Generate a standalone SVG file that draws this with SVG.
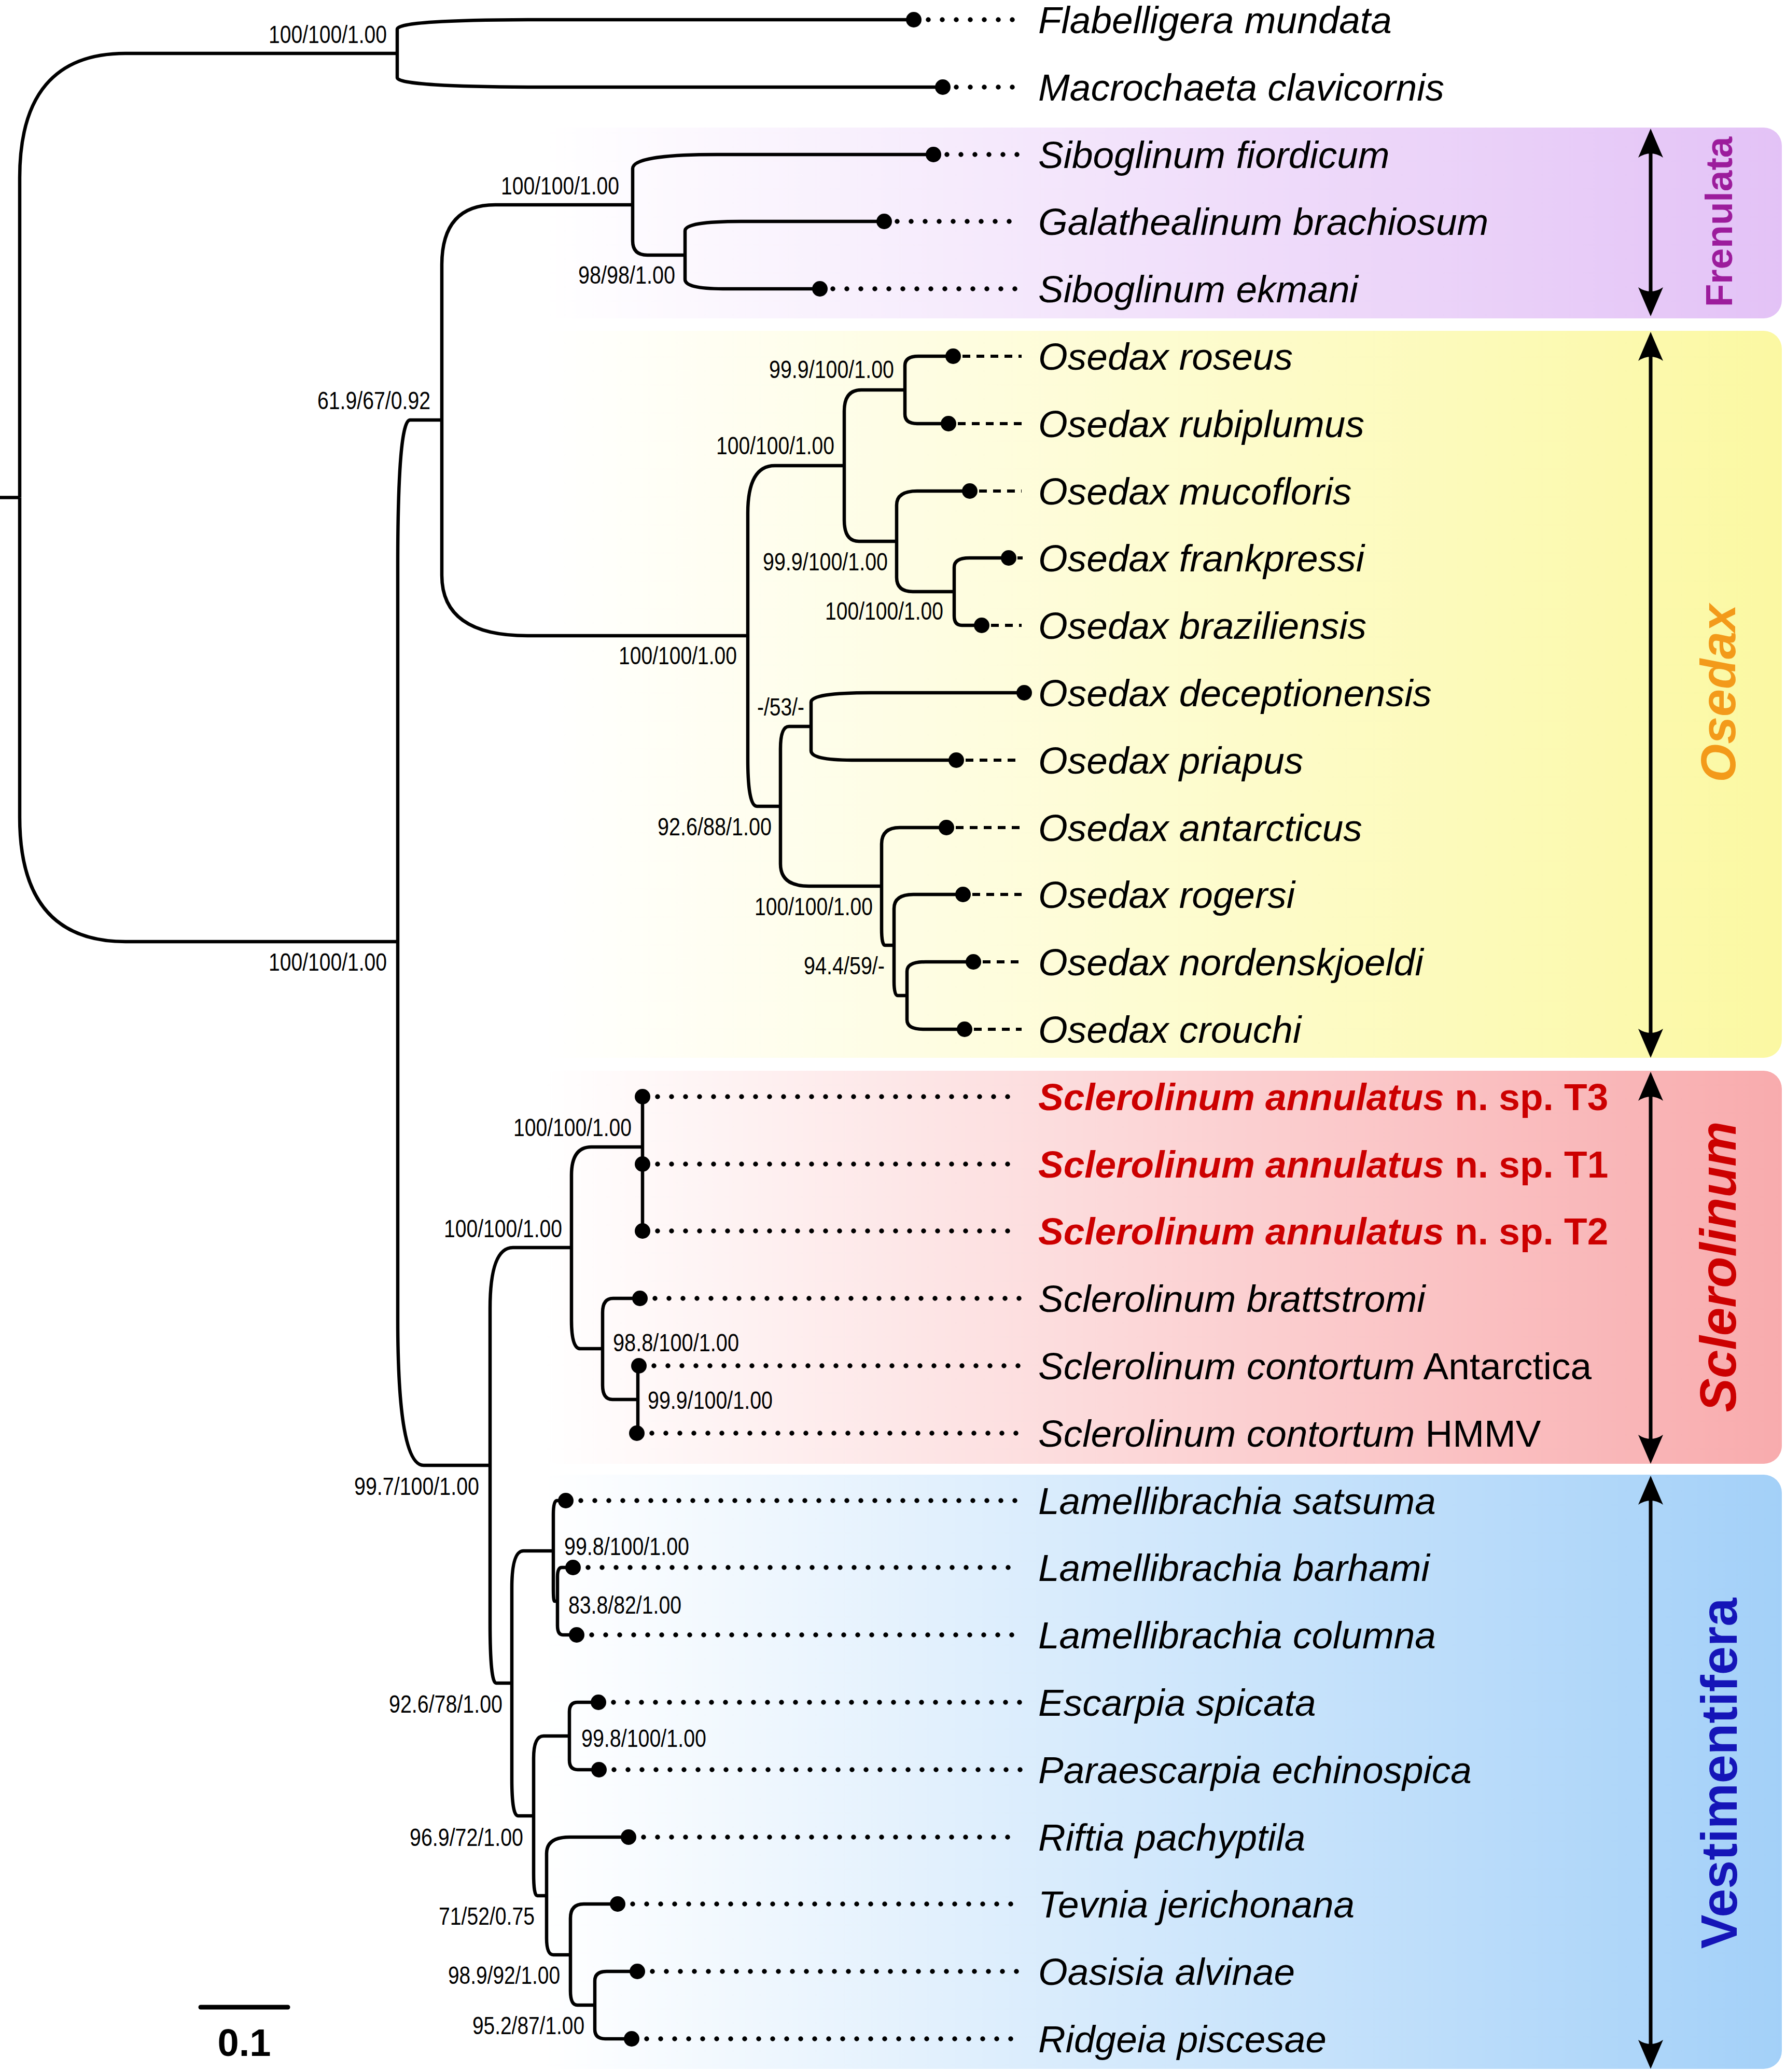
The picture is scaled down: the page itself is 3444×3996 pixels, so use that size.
<svg xmlns="http://www.w3.org/2000/svg" width="3444" height="3996" viewBox="0 0 3444 3996">
<defs>
<style>
.br{fill:none;stroke:#000;stroke-width:6.5;stroke-linejoin:round;stroke-linecap:butt}
.tip{fill:#000}
.dl{fill:none;stroke:#000;stroke-width:9.5;stroke-linecap:round;stroke-dasharray:0 27}
.ds{fill:none;stroke:#000;stroke-width:6;stroke-dasharray:15 12}
.sp{font-family:"Liberation Sans",Arial,sans-serif;font-size:73px;font-style:italic;fill:#000}
.nv{font-style:normal}
.new{fill:#CC0000;font-weight:bold}
.sup{font-family:"Liberation Sans",Arial,sans-serif;font-size:49px;text-anchor:end;fill:#000}
.grp{font-family:"Liberation Sans",Arial,sans-serif;text-anchor:middle}
.arr{fill:none;stroke:#000;stroke-width:7;marker-start:url(#ah);marker-end:url(#ah)}
</style>
<marker id="ah" viewBox="0 -25 56 50" refX="36" refY="0" markerWidth="56" markerHeight="50" markerUnits="userSpaceOnUse" orient="auto-start-reverse">
<path d="M56,0 L0,-24 Q16,0 0,24 Z" fill="#000"/>
</marker>
<linearGradient id="gF" gradientUnits="userSpaceOnUse" x1="1040" y1="0" x2="3436" y2="0"><stop offset="0" stop-color="#FFFFFF"/><stop offset="1" stop-color="#E3C2F6"/></linearGradient>
<linearGradient id="gO" gradientUnits="userSpaceOnUse" x1="1040" y1="0" x2="3436" y2="0"><stop offset="0" stop-color="#FFFFFF"/><stop offset="1" stop-color="#FBF8A2"/></linearGradient>
<linearGradient id="gS" gradientUnits="userSpaceOnUse" x1="1040" y1="0" x2="3436" y2="0"><stop offset="0" stop-color="#FFFFFF"/><stop offset="1" stop-color="#F8ABAD"/></linearGradient>
<linearGradient id="gV" gradientUnits="userSpaceOnUse" x1="1040" y1="0" x2="3436" y2="0"><stop offset="0" stop-color="#FFFFFF"/><stop offset="1" stop-color="#A3D0F8"/></linearGradient>
</defs>
<rect width="3444" height="3996" fill="#FFFFFF"/>

<g id="clade-boxes">
<rect id="box-frenulata" x="1040" y="246" width="2396" height="368" rx="35" fill="url(#gF)"/>
<rect id="box-osedax" x="1040" y="638" width="2396" height="1402" rx="35" fill="url(#gO)"/>
<rect id="box-sclerolinum" x="1040" y="2065" width="2396" height="758" rx="35" fill="url(#gS)"/>
<rect id="box-vestimentifera" x="1040" y="2844" width="2396" height="1146" rx="35" fill="url(#gV)"/>
</g>

<g id="connectors">
<path class="br" d="M0,959.5 H38"/>
<path class="br" d="M38,959.5 V342.8 Q38,103 241.8,103 H766"/>
<path class="br" d="M38,959.5 V1576.2 Q38,1816 242.1,1816 H767"/>
<path class="br" d="M766,103 V56.2 Q766,38 1044.9,38 H1762"/>
<path class="br" d="M766,103 V149.8 Q766,168 1060.6,168 H1818"/>
<path class="br" d="M767,1816 V1091.7 Q767,810 790.8,810 H852"/>
<path class="br" d="M767,1816 V2543.2 Q767,2826 816.8,2826 H945"/>
<path class="br" d="M852,810 V511.2 Q852,395 955,395 H1220"/>
<path class="br" d="M852,810 V1109.5 Q852,1226 1017.2,1226 H1442"/>
<path class="br" d="M1220,395 V325.2 Q1220,298 1382.4,298 H1800"/>
<path class="br" d="M1220,395 V464.8 Q1220,492 1248.3,492 H1321"/>
<path class="br" d="M1321,492 V445.2 Q1321,427 1428.5,427 H1705"/>
<path class="br" d="M1321,492 V538.8 Q1321,557 1393.8,557 H1581"/>
<path class="br" d="M1442,1226 V989.8 Q1442,898 1494.1,898 H1628"/>
<path class="br" d="M1442,1226 V1462.9 Q1442,1555 1459.6,1555 H1505"/>
<path class="br" d="M1628,898 V792.9 Q1628,752 1660.8,752 H1745"/>
<path class="br" d="M1628,898 V1003.1 Q1628,1044 1656.3,1044 H1729"/>
<path class="br" d="M1745,752 V705.2 Q1745,687 1771,687 H1838"/>
<path class="br" d="M1745,752 V798.8 Q1745,817 1768.5,817 H1829"/>
<path class="br" d="M1729,1044 V974.2 Q1729,947 1768.5,947 H1870"/>
<path class="br" d="M1729,1044 V1113.8 Q1729,1141 1760.1,1141 H1840"/>
<path class="br" d="M1840,1141 V1094.2 Q1840,1076 1869.4,1076 H1945"/>
<path class="br" d="M1840,1141 V1187.8 Q1840,1206 1854.8,1206 H1893"/>
<path class="br" d="M1505,1555 V1444.1 Q1505,1401 1521.5,1401 H1564"/>
<path class="br" d="M1505,1555 V1665.9 Q1505,1709 1559.6,1709 H1700"/>
<path class="br" d="M1564,1401 V1354.2 Q1564,1336 1679.1,1336 H1975"/>
<path class="br" d="M1564,1401 V1447.8 Q1564,1466 1642.4,1466 H1844"/>
<path class="br" d="M1700,1709 V1627.6 Q1700,1596 1735,1596 H1825"/>
<path class="br" d="M1700,1709 V1791.1 Q1700,1823 1706.7,1823 H1724"/>
<path class="br" d="M1724,1823 V1752.4 Q1724,1725 1761.2,1725 H1857"/>
<path class="br" d="M1724,1823 V1892.8 Q1724,1920 1731,1920 H1749"/>
<path class="br" d="M1749,1920 V1873.2 Q1749,1855 1784.8,1855 H1877"/>
<path class="br" d="M1749,1920 V1966.8 Q1749,1985 1780.1,1985 H1860"/>
<path class="br" d="M945,2826 V2523.6 Q945,2406 989,2406 H1102"/>
<path class="br" d="M945,2826 V3128.4 Q945,3246 956.8,3246 H987"/>
<path class="br" d="M1102,2406 V2266.3 Q1102,2212 1140.4,2212 H1239"/>
<path class="br" d="M1102,2406 V2546.4 Q1102,2601 1118.8,2601 H1162"/>
<path class="br" d="M1239,2115 V2374"/>
<path class="br" d="M1162,2601 V2531.2 Q1162,2504 1182.2,2504 H1234"/>
<path class="br" d="M1162,2601 V2671.6 Q1162,2699 1180.8,2699 H1230"/>
<path class="br" d="M1230,2634 V2764"/>
<path class="br" d="M987,3246 V3062.4 Q987,2991 1009.4,2991 H1067"/>
<path class="br" d="M987,3246 V3430.3 Q987,3502 998.8,3502 H1029"/>
<path class="br" d="M1067,2991 V2921.2 Q1067,2894 1073.7,2894 H1091"/>
<path class="br" d="M1067,2991 V3060.8 Q1067,3088 1069.2,3088 H1075"/>
<path class="br" d="M1075,3088 V3041.2 Q1075,3023 1083.4,3023 H1105"/>
<path class="br" d="M1075,3088 V3134.8 Q1075,3153 1085.4,3153 H1112"/>
<path class="br" d="M1029,3502 V3391.1 Q1029,3348 1048.3,3348 H1098"/>
<path class="br" d="M1029,3502 V3612.9 Q1029,3656 1036,3656 H1054"/>
<path class="br" d="M1098,3348 V3301.2 Q1098,3283 1113.7,3283 H1154"/>
<path class="br" d="M1098,3348 V3394.8 Q1098,3413 1114,3413 H1155"/>
<path class="br" d="M1054,3656 V3574.6 Q1054,3543 1098.2,3543 H1212"/>
<path class="br" d="M1054,3656 V3738.1 Q1054,3770 1066.9,3770 H1100"/>
<path class="br" d="M1100,3770 V3699.4 Q1100,3672 1125.5,3672 H1191"/>
<path class="br" d="M1100,3770 V3839.8 Q1100,3867 1113.2,3867 H1147"/>
<path class="br" d="M1147,3867 V3820.2 Q1147,3802 1170,3802 H1229"/>
<path class="br" d="M1147,3867 V3913.8 Q1147,3932 1166.9,3932 H1218"/>
</g>

<g id="support-values" class="sup">
<text x="746" y="83" textLength="228" lengthAdjust="spacingAndGlyphs">100/100/1.00</text>
<text x="1194" y="375" textLength="228" lengthAdjust="spacingAndGlyphs">100/100/1.00</text>
<text x="1302" y="547" textLength="187" lengthAdjust="spacingAndGlyphs">98/98/1.00</text>
<text x="830" y="789" textLength="218" lengthAdjust="spacingAndGlyphs">61.9/67/0.92</text>
<text x="746" y="1872" textLength="228" lengthAdjust="spacingAndGlyphs">100/100/1.00</text>
<text x="1421" y="1281" textLength="228" lengthAdjust="spacingAndGlyphs">100/100/1.00</text>
<text x="1724" y="729" textLength="241" lengthAdjust="spacingAndGlyphs">99.9/100/1.00</text>
<text x="1609" y="876" textLength="228" lengthAdjust="spacingAndGlyphs">100/100/1.00</text>
<text x="1712" y="1100" textLength="241" lengthAdjust="spacingAndGlyphs">99.9/100/1.00</text>
<text x="1819" y="1195" textLength="228" lengthAdjust="spacingAndGlyphs">100/100/1.00</text>
<text x="1551" y="1380" textLength="91" lengthAdjust="spacingAndGlyphs">-/53/-</text>
<text x="1488" y="1611" textLength="220" lengthAdjust="spacingAndGlyphs">92.6/88/1.00</text>
<text x="1683" y="1765" textLength="228" lengthAdjust="spacingAndGlyphs">100/100/1.00</text>
<text x="1706" y="1879" textLength="156" lengthAdjust="spacingAndGlyphs">94.4/59/-</text>
<text x="1218" y="2191" textLength="228" lengthAdjust="spacingAndGlyphs">100/100/1.00</text>
<text x="1084" y="2386" textLength="228" lengthAdjust="spacingAndGlyphs">100/100/1.00</text>
<text x="1425" y="2606" textLength="243" lengthAdjust="spacingAndGlyphs">98.8/100/1.00</text>
<text x="1490" y="2717" textLength="241" lengthAdjust="spacingAndGlyphs">99.9/100/1.00</text>
<text x="924" y="2883" textLength="241" lengthAdjust="spacingAndGlyphs">99.7/100/1.00</text>
<text x="1329" y="2999" textLength="241" lengthAdjust="spacingAndGlyphs">99.8/100/1.00</text>
<text x="1314" y="3112" textLength="218" lengthAdjust="spacingAndGlyphs">83.8/82/1.00</text>
<text x="969" y="3303" textLength="219" lengthAdjust="spacingAndGlyphs">92.6/78/1.00</text>
<text x="1362" y="3369" textLength="241" lengthAdjust="spacingAndGlyphs">99.8/100/1.00</text>
<text x="1009" y="3560" textLength="219" lengthAdjust="spacingAndGlyphs">96.9/72/1.00</text>
<text x="1031" y="3712" textLength="185" lengthAdjust="spacingAndGlyphs">71/52/0.75</text>
<text x="1080" y="3826" textLength="216" lengthAdjust="spacingAndGlyphs">98.9/92/1.00</text>
<text x="1127" y="3923" textLength="216" lengthAdjust="spacingAndGlyphs">95.2/87/1.00</text>
</g>

<g id="leaf-flabelligera"><circle class="tip" cx="1762" cy="38" r="15"/><line class="dl" x1="1790" y1="38" x2="1970" y2="38"/><text class="sp" x="2002" y="64">Flabelligera mundata</text></g>
<g id="leaf-macrochaeta"><circle class="tip" cx="1818" cy="168" r="15"/><line class="dl" x1="1844" y1="168" x2="1970" y2="168"/><text class="sp" x="2002" y="194">Macrochaeta clavicornis</text></g>
<g id="leaf-sib-fiordicum"><circle class="tip" cx="1800" cy="298" r="15"/><line class="dl" x1="1826" y1="298" x2="1970" y2="298"/><text class="sp" x="2002" y="324">Siboglinum fiordicum</text></g>
<g id="leaf-galathealinum"><circle class="tip" cx="1705" cy="427" r="15"/><line class="dl" x1="1730" y1="427" x2="1970" y2="427"/><text class="sp" x="2002" y="453">Galathealinum brachiosum</text></g>
<g id="leaf-sib-ekmani"><circle class="tip" cx="1581" cy="557" r="15"/><line class="dl" x1="1606" y1="557" x2="1970" y2="557"/><text class="sp" x="2002" y="583">Siboglinum ekmani</text></g>

<g id="leaf-os-roseus"><circle class="tip" cx="1838" cy="687" r="15"/><line class="ds" x1="1856" y1="687" x2="1970" y2="687"/><text class="sp" x="2002" y="713">Osedax roseus</text></g>
<g id="leaf-os-rubiplumus"><circle class="tip" cx="1829" cy="817" r="15"/><line class="ds" x1="1847" y1="817" x2="1970" y2="817"/><text class="sp" x="2002" y="843">Osedax rubiplumus</text></g>
<g id="leaf-os-mucofloris"><circle class="tip" cx="1870" cy="947" r="15"/><line class="ds" x1="1888" y1="947" x2="1970" y2="947"/><text class="sp" x="2002" y="973">Osedax mucofloris</text></g>
<g id="leaf-os-frankpressi"><circle class="tip" cx="1945" cy="1076" r="15"/><line class="ds" x1="1962" y1="1076" x2="1972" y2="1076"/><text class="sp" x="2002" y="1102">Osedax frankpressi</text></g>
<g id="leaf-os-braziliensis"><circle class="tip" cx="1893" cy="1206" r="15"/><line class="ds" x1="1911" y1="1206" x2="1970" y2="1206"/><text class="sp" x="2002" y="1232">Osedax braziliensis</text></g>
<g id="leaf-os-deceptionensis"><circle class="tip" cx="1975" cy="1336" r="15"/><text class="sp" x="2002" y="1362">Osedax deceptionensis</text></g>
<g id="leaf-os-priapus"><circle class="tip" cx="1844" cy="1466" r="15"/><line class="ds" x1="1862" y1="1466" x2="1970" y2="1466"/><text class="sp" x="2002" y="1492">Osedax priapus</text></g>
<g id="leaf-os-antarcticus"><circle class="tip" cx="1825" cy="1596" r="15"/><line class="ds" x1="1843" y1="1596" x2="1970" y2="1596"/><text class="sp" x="2002" y="1622">Osedax antarcticus</text></g>
<g id="leaf-os-rogersi"><circle class="tip" cx="1857" cy="1725" r="15"/><line class="ds" x1="1875" y1="1725" x2="1970" y2="1725"/><text class="sp" x="2002" y="1751">Osedax rogersi</text></g>
<g id="leaf-os-nordenskjoeldi"><circle class="tip" cx="1877" cy="1855" r="15"/><line class="ds" x1="1895" y1="1855" x2="1970" y2="1855"/><text class="sp" x="2002" y="1881">Osedax nordenskjoeldi</text></g>
<g id="leaf-os-crouchi"><circle class="tip" cx="1860" cy="1985" r="15"/><line class="ds" x1="1878" y1="1985" x2="1970" y2="1985"/><text class="sp" x="2002" y="2011">Osedax crouchi</text></g>

<g id="leaf-scl-t3"><circle class="tip" cx="1239" cy="2115" r="15"/><line class="dl" x1="1268" y1="2115" x2="1970" y2="2115"/><text class="sp new" x="2002" y="2141">Sclerolinum annulatus<tspan class="nv"> n. sp. T3</tspan></text></g>
<g id="leaf-scl-t1"><circle class="tip" cx="1239" cy="2245" r="15"/><line class="dl" x1="1268" y1="2245" x2="1970" y2="2245"/><text class="sp new" x="2002" y="2271">Sclerolinum annulatus<tspan class="nv"> n. sp. T1</tspan></text></g>
<g id="leaf-scl-t2"><circle class="tip" cx="1239" cy="2374" r="15"/><line class="dl" x1="1268" y1="2374" x2="1970" y2="2374"/><text class="sp new" x="2002" y="2400">Sclerolinum annulatus<tspan class="nv"> n. sp. T2</tspan></text></g>
<g id="leaf-scl-brattstromi"><circle class="tip" cx="1234" cy="2504" r="15"/><line class="dl" x1="1263" y1="2504" x2="1970" y2="2504"/><text class="sp" x="2002" y="2530">Sclerolinum brattstromi</text></g>
<g id="leaf-scl-contortum-ant"><circle class="tip" cx="1232" cy="2634" r="15"/><line class="dl" x1="1261" y1="2634" x2="1970" y2="2634"/><text class="sp" x="2002" y="2660">Sclerolinum contortum<tspan class="nv"> Antarctica</tspan></text></g>
<g id="leaf-scl-contortum-hmmv"><circle class="tip" cx="1228" cy="2764" r="15"/><line class="dl" x1="1257" y1="2764" x2="1970" y2="2764"/><text class="sp" x="2002" y="2790">Sclerolinum contortum<tspan class="nv"> HMMV</tspan></text></g>

<g id="leaf-lam-satsuma"><circle class="tip" cx="1091" cy="2894" r="15"/><line class="dl" x1="1120" y1="2894" x2="1970" y2="2894"/><text class="sp" x="2002" y="2920">Lamellibrachia satsuma</text></g>
<g id="leaf-lam-barhami"><circle class="tip" cx="1105" cy="3023" r="15"/><line class="dl" x1="1134" y1="3023" x2="1970" y2="3023"/><text class="sp" x="2002" y="3049">Lamellibrachia barhami</text></g>
<g id="leaf-lam-columna"><circle class="tip" cx="1112" cy="3153" r="15"/><line class="dl" x1="1141" y1="3153" x2="1970" y2="3153"/><text class="sp" x="2002" y="3179">Lamellibrachia columna</text></g>
<g id="leaf-escarpia"><circle class="tip" cx="1154" cy="3283" r="15"/><line class="dl" x1="1183" y1="3283" x2="1970" y2="3283"/><text class="sp" x="2002" y="3309">Escarpia spicata</text></g>
<g id="leaf-paraescarpia"><circle class="tip" cx="1155" cy="3413" r="15"/><line class="dl" x1="1184" y1="3413" x2="1970" y2="3413"/><text class="sp" x="2002" y="3439">Paraescarpia echinospica</text></g>
<g id="leaf-riftia"><circle class="tip" cx="1212" cy="3543" r="15"/><line class="dl" x1="1241" y1="3543" x2="1970" y2="3543"/><text class="sp" x="2002" y="3569">Riftia pachyptila</text></g>
<g id="leaf-tevnia"><circle class="tip" cx="1191" cy="3672" r="15"/><line class="dl" x1="1220" y1="3672" x2="1970" y2="3672"/><text class="sp" x="2002" y="3698">Tevnia jerichonana</text></g>
<g id="leaf-oasisia"><circle class="tip" cx="1229" cy="3802" r="15"/><line class="dl" x1="1258" y1="3802" x2="1970" y2="3802"/><text class="sp" x="2002" y="3828">Oasisia alvinae</text></g>
<g id="leaf-ridgeia"><circle class="tip" cx="1218" cy="3932" r="15"/><line class="dl" x1="1247" y1="3932" x2="1970" y2="3932"/><text class="sp" x="2002" y="3958">Ridgeia piscesae</text></g>

<g id="clade-frenulata">
<line class="arr" x1="3183" y1="268" x2="3183" y2="590"/>
<text class="grp" transform="translate(3340,428) rotate(-90)" font-size="73" font-weight="bold" fill="#9C1C9C">Frenulata</text>
</g>
<g id="clade-osedax">
<line class="arr" x1="3183" y1="660" x2="3183" y2="2020"/>
<text class="grp" transform="translate(3346,1337) rotate(-90)" font-size="95" font-weight="bold" font-style="italic" fill="#F39A1A">Osedax</text>
</g>
<g id="clade-sclerolinum">
<line class="arr" x1="3183" y1="2087" x2="3183" y2="2803"/>
<text class="grp" transform="translate(3347,2443) rotate(-90)" font-size="98" font-weight="bold" font-style="italic" fill="#CC0000">Sclerolinum</text>
</g>
<g id="clade-vestimentifera">
<line class="arr" x1="3183" y1="2866" x2="3183" y2="3970"/>
<text class="grp" transform="translate(3349,3420) rotate(-90)" font-size="99" font-weight="bold" fill="#1515B8">Vestimentifera</text>
</g>

<g id="scale-bar">
<line x1="387" y1="3871" x2="555" y2="3871" stroke="#000" stroke-width="9" stroke-linecap="round"/>
<text x="471" y="3965" font-family="Liberation Sans, Arial, sans-serif" font-size="74" font-weight="bold" text-anchor="middle">0.1</text>
</g>
</svg>
